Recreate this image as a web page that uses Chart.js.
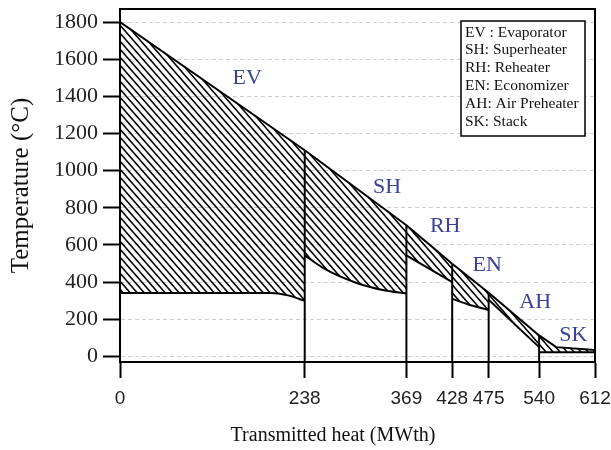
<!DOCTYPE html>
<html lang="en">
<head>
  <meta charset="UTF-8" />
  <title>Heat transfer diagram</title>
  <style>
    html, body { margin: 0; padding: 0; background: #fff; }
    #wrap { width: 611px; height: 450px; }
  </style>
</head>
<body>
  <div id="wrap"><canvas id="myChart"></canvas></div>

  <script src="https://cdn.jsdelivr.net/npm/chart.js"></script>
  <script>
    // section boundaries (MWth) - also used as the x tick labels
    const boundaries = [0, 238, 369, 428, 475, 540, 612];
    const yTicks = [0, 200, 400, 600, 800, 1000, 1200, 1400, 1600, 1800];

    // flue gas side (upper line)
    const gasX = [0, 238, 369, 428, 475, 540, 562, 612];
    const gasT = [1800, 1110, 706, 499, 343, 113, 50, 35];

    // water / steam side, lower line of every section
    const evX = [0, 195, 215, 238];
    const evT = [342, 342, 330, 300];
    const shX = [238, 265, 305, 340, 369];
    const shT = [544, 468, 395, 356, 339];
    const rhX = [369, 400, 428];
    const rhT = [544, 468, 400];
    const enX = [428, 450, 475];
    const enT = [310, 278, 250];
    const ahX = [475, 540];
    const ahT = [305, 50];
    const skX = [540, 612];
    const skT = [22, 22];

    const sectionNames = ['EV', 'SH', 'RH', 'EN', 'AH', 'SK'];
    const legendLines = ['EV : Evaporator', 'SH: Superheater', 'RH: Reheater',
                         'EN: Economizer', 'AH: Air Preheater', 'SK: Stack'];

    const yMin = -30, yMax = 1870;

    // where the section names sit (data units)
    const nameAnchors = [[164, 1500], [344, 910], [419, 700], [473, 490], [535, 290], [584, 115]];

    function makeHatch() {
      const c = document.createElement('canvas');
      c.width = 7; c.height = 8;
      const g = c.getContext('2d');
      g.strokeStyle = '#000';
      g.lineWidth = 1.5;
      g.beginPath();
      g.moveTo(-7, -8); g.lineTo(14, 16);
      g.moveTo(-7, 0);  g.lineTo(7, 16);
      g.moveTo(0, -8);  g.lineTo(14, 8);
      g.stroke();
      return g.createPattern(c, 'repeat');
    }
    const hatch = makeHatch();

    const pts = (xs, ys) => xs.map((x, i) => ({ x, y: ys[i] }));
    const lower = [[evX, evT], [shX, shT], [rhX, rhT], [enX, enT], [ahX, ahT], [skX, skT]];

    const datasets = [];
    sectionNames.forEach((name, i) => {
      const a = boundaries[i], b = boundaries[i + 1];
      datasets.push({
        label: name + ' gas',
        data: pts(gasX, gasT).filter(p => p.x >= a && p.x <= b),
        borderColor: '#000',
        borderWidth: 2,
        backgroundColor: hatch,
        fill: '+1'
      });
      datasets.push({
        label: name + ' fluid',
        data: pts(lower[i][0], lower[i][1]),
        borderColor: '#000',
        borderWidth: 2,
        fill: false,
        cubicInterpolationMode: 'monotone'
      });
    });
    // vertical separators between sections
    boundaries.slice(1, -1).forEach(b => {
      datasets.push({
        label: 'sep ' + b,
        data: [{ x: b, y: yMin }, { x: b, y: gasT[gasX.indexOf(b)] }],
        borderColor: '#000',
        borderWidth: 2,
        fill: false
      });
    });

    const decorations = {
      id: 'decorations',
      afterDraw(chart) {
        const { ctx, chartArea: a, scales: { x, y } } = chart;
        ctx.save();
        // frame top and right
        ctx.strokeStyle = '#000';
        ctx.lineWidth = 2;
        ctx.beginPath();
        ctx.moveTo(a.left, a.top);
        ctx.lineTo(a.right, a.top);
        ctx.lineTo(a.right, a.bottom);
        ctx.stroke();

        // section names
        ctx.fillStyle = '#3b409c';
        ctx.font = '22px "Liberation Serif"';
        ctx.textAlign = 'center';
        ctx.textBaseline = 'middle';
        sectionNames.forEach((n, i) => {
          ctx.fillText(n, x.getPixelForValue(nameAnchors[i][0]), y.getPixelForValue(nameAnchors[i][1]));
        });

        // legend box
        const bx = a.right - 134, by = a.top + 12;
        ctx.fillStyle = '#fff';
        ctx.fillRect(bx, by, 124, 115);
        ctx.lineWidth = 1.5;
        ctx.strokeRect(bx, by, 124, 115);
        ctx.fillStyle = '#111';
        ctx.font = '15.5px "Liberation Serif"';
        ctx.textAlign = 'left';
        legendLines.forEach((t, i) => ctx.fillText(t, bx + 4, by + 11.5 + i * 17.9));

        // x axis title
        ctx.fillStyle = '#111';
        ctx.font = '20px "Liberation Serif"';
        ctx.textAlign = 'center';
        ctx.fillText('Transmitted heat (MWth)', a.left + 213, 436);
        ctx.restore();
      }
    };

    new Chart(document.getElementById('myChart'), {
      type: 'line',
      data: { datasets },
      options: {
        responsive: true,
        maintainAspectRatio: false,
        animation: false,
        elements: { point: { radius: 0 }, line: { tension: 0 } },
        layout: { padding: { top: 9, right: 16, left: 0, bottom: 0 } },
        plugins: { legend: { display: false }, tooltip: { enabled: false } },
        scales: {
          x: {
            type: 'linear',
            min: 0,
            max: 612,
            afterBuildTicks: s => { s.ticks = boundaries.map(v => ({ value: v })); },
            afterFit: s => { s.height = 88; s.paddingLeft = 0; s.paddingRight = 0; },
            grid: { drawOnChartArea: false, drawTicks: true, tickLength: 16, tickColor: '#000', tickWidth: 2 },
            border: { display: true, color: '#000', width: 2 },
            ticks: {
              autoSkip: false,
              maxRotation: 0,
              padding: 9,
              color: '#222',
              font: { family: '"Liberation Sans"', size: 19 },
              callback: v => String(v)
            }
          },
          y: {
            min: yMin,
            max: yMax,
            afterBuildTicks: s => { s.ticks = yTicks.map(v => ({ value: v })); },
            afterFit: s => { s.width = 120; s.paddingTop = 0; s.paddingBottom = 0; },
            grid: { color: '#cfcfcf', lineWidth: 1, tickLength: 17, tickColor: '#000', tickWidth: 2 },
            border: { display: true, color: '#000', width: 2, dash: [4, 3] },
            ticks: {
              padding: 5,
              color: '#222',
              font: { family: '"Liberation Serif"', size: 22 },
              callback: v => String(v)
            },
            title: {
              display: true,
              text: 'Temperature (°C)',
              color: '#111',
              padding: { top: 6, bottom: 0 },
              font: { family: '"Liberation Serif"', size: 25 }
            }
          }
        }
      },
      plugins: [decorations]
    });
  </script>
</body>
</html>
